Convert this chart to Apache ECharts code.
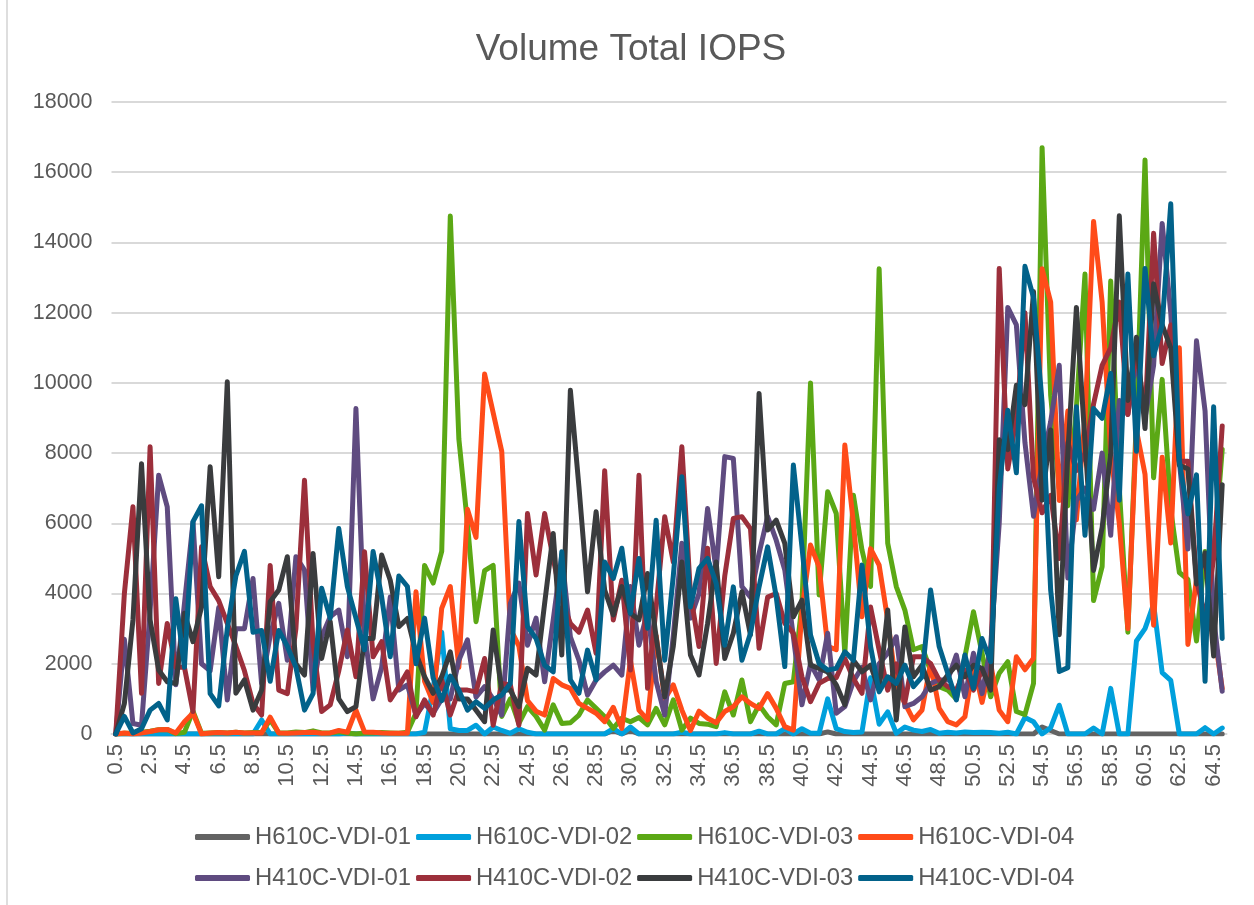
<!DOCTYPE html>
<html>
<head>
<meta charset="utf-8">
<title>Volume Total IOPS</title>
<script src="https://cdn.jsdelivr.net/npm/echarts@6/dist/echarts.min.js"></script>
<style>
html, body { margin: 0; padding: 0; background: #fff; }
#main { width: 1254px; height: 905px; }
#edge { position: absolute; left: 6px; top: 0; width: 2px; height: 905px; background: #DEDEDE; }
</style>
</head>
<body>
<div id="main"></div>
<div id="edge"></div>
<script>
var categories = [
	0.5,1,1.5,2,2.5,3,3.5,4,4.5,5,5.5,6,6.5,7,7.5,8,8.5,9,9.5,10,
	10.5,11,11.5,12,12.5,13,13.5,14,14.5,15,15.5,16,16.5,17,17.5,18,18.5,19,19.5,20,
	20.5,21,21.5,22,22.5,23,23.5,24,24.5,25,25.5,26,26.5,27,27.5,28,28.5,29,29.5,30,
	30.5,31,31.5,32,32.5,33,33.5,34,34.5,35,35.5,36,36.5,37,37.5,38,38.5,39,39.5,40,
	40.5,41,41.5,42,42.5,43,43.5,44,44.5,45,45.5,46,46.5,47,47.5,48,48.5,49,49.5,50,
	50.5,51,51.5,52,52.5,53,53.5,54,54.5,55,55.5,56,56.5,57,57.5,58,58.5,59,59.5,60,
	60.5,61,61.5,62,62.5,63,63.5,64,64.5,65
];

var h610c01 = [
	0,0,0,0,0,0,0,0,0,0,
	0,0,0,0,0,0,0,0,0,0,
	0,0,0,0,0,0,0,0,0,0,
	0,0,0,0,0,0,0,0,0,0,
	0,0,0,0,0,0,0,0,0,0,
	0,0,0,0,0,0,0,0,100,0,
	100,0,0,0,0,0,0,0,0,0,
	0,0,0,0,0,0,0,0,0,0,
	0,0,0,60,0,0,0,0,0,0,
	0,0,0,0,0,0,0,0,0,0,
	0,0,0,0,0,0,0,0,200,100,
	0,0,0,0,0,0,0,0,0,0,
	0,0,0,0,0,0,0,0,0,0
];
var h610c02 = [
	0,0,0,0,0,0,0,0,0,0,
	0,0,0,0,0,0,0,400,0,0,
	0,0,0,0,0,0,0,30,0,0,
	0,0,0,0,0,0,50,1300,2900,150,
	100,100,250,0,200,100,20,150,50,0,
	0,0,0,0,0,0,0,0,150,0,
	200,0,0,0,0,0,50,0,0,0,
	0,40,0,0,0,80,0,0,150,0,
	150,20,20,1000,150,70,40,60,1600,280,
	630,20,200,110,70,130,20,50,30,60,
	40,50,40,20,50,0,470,350,0,180,
	820,0,0,0,170,0,1300,0,0,2650,
	3000,3700,1750,1530,0,0,0,180,0,170
];
var h610c03 = [
	0,20,30,50,80,120,130,10,50,650,
	20,30,40,30,50,30,40,40,400,30,
	30,60,40,90,30,30,60,30,0,30,
	30,40,30,20,50,600,4800,4300,5200,14750,
	8400,6000,3200,4650,4800,500,1000,300,780,500,
	110,830,300,320,540,970,730,490,160,450,
	350,470,260,730,260,970,110,450,300,280,
	210,1200,540,1540,350,830,490,260,1440,1490,
	3700,10000,3960,6900,6280,2300,6800,5240,4200,13250,
	5430,4200,3530,2400,2490,1800,1350,1250,1000,2200,
	3480,2300,1060,1730,2060,640,550,1440,16700,9650,
	7000,6500,9300,13100,3800,4770,12900,7000,2900,9000,
	16350,7300,10100,6400,4600,4400,2650,5200,5000,8100
];
var h610c04 = [
	0,30,0,30,70,120,130,30,350,600,
	0,30,40,30,50,30,30,30,480,30,
	20,30,40,50,20,30,100,50,680,60,
	50,30,20,20,20,4050,1500,900,3580,4200,
	1900,6400,5600,10250,9150,8050,3000,2500,950,650,
	540,1580,1400,1300,870,730,590,350,760,160,
	2100,680,400,2800,1000,1400,680,100,650,450,
	320,640,780,1060,870,730,1150,730,210,110,
	3500,5380,4760,2500,2400,8230,6000,3340,5280,4810,
	3250,1350,870,400,680,2000,730,350,260,490,
	2000,900,2000,680,350,2200,1830,2160,13250,12300,
	6650,9200,6100,9000,14600,12300,8000,6000,3000,8650,
	7400,3100,7880,5440,11000,2550,4400,5000,3000,1300
];
var h410c01 = [
	0,2700,300,250,3500,7370,6470,1400,3700,6040,
	2000,1800,3600,970,3000,3000,4430,1440,2800,3720,
	2100,5050,4670,1250,2770,3340,3530,2200,9270,2900,
	1000,1900,3900,1250,1400,540,870,590,1000,1000,
	2100,2680,1050,1350,1000,540,3720,4300,2530,3300,
	1490,3250,5100,2770,2100,1110,1540,1770,1960,1680,
	4200,2530,3500,1500,540,2800,5430,3300,4000,6420,
	4670,7900,7850,4200,3900,5140,6190,5520,4670,2770,
	830,2000,1540,2870,590,780,1500,1900,970,2000,
	2300,2770,780,870,1060,1440,1540,1540,2250,1060,
	2300,1150,2490,6000,12150,11650,8300,6200,7700,8900,
	10500,4440,6650,7000,6400,8000,5660,9500,9100,10700,
	9000,10500,14540,12000,7770,5270,11200,9200,3300,1220
];
var h410c02 = [
	0,4000,6470,1160,8180,1440,3150,1900,1900,640,
	5330,4200,3800,3150,2500,1800,870,540,4800,1250,
	1150,3000,7230,2580,640,830,1800,2960,1630,5190,
	2200,2630,970,1350,1770,490,970,540,1540,540,
	1250,1250,1200,2150,250,1440,1400,250,6280,4530,
	6280,5000,3800,3150,2900,3530,2300,7500,3250,4380,
	1820,7370,1300,3600,6190,4900,8180,4000,2490,5290,
	2010,4500,6140,6190,5850,2440,3900,4000,3150,2870,
	1630,920,1440,1580,1600,2150,1580,1160,3620,2390,
	1250,2000,900,2200,2200,2000,1540,1350,1250,1820,
	1250,1820,1350,13260,7550,9000,12000,7300,6300,6800,
	5000,8300,7500,8000,9400,10500,11000,12300,9100,11000,
	9000,14260,10550,11650,7770,7770,4400,3300,5000,8770
];
var h410c03 = [
	0,870,3250,7700,3250,1820,1490,1440,3440,2630,
	3620,7610,4480,10030,1160,1540,680,1250,3770,4100,
	5050,2000,1680,5140,2150,3200,1000,640,780,2720,
	2720,5100,4380,3060,3290,2300,1630,1160,1630,2340,
	1000,1000,680,350,2960,1250,1250,780,1870,1680,
	3720,5710,2250,9790,7040,4050,6330,4100,3390,4200,
	3440,3250,4570,2770,1060,2500,4900,2250,1680,3150,
	4900,2150,2870,4050,2820,9700,5810,6090,5430,3340,
	3810,1960,1870,1770,1400,830,2100,1770,1960,1250,
	3530,400,3050,1630,1960,1250,1350,1680,1960,1630,
	1960,1870,1250,8380,8100,9930,9380,12600,6660,8660,
	2830,8000,12150,8320,4660,5880,8000,14760,9500,11300,
	8700,12820,11650,11000,7660,7550,4270,5160,2220,7100
];
var h410c04 = [
	0,500,30,150,680,870,400,3850,1900,6050,
	6500,1150,800,3000,4500,5200,2900,2950,1500,2950,
	2500,1900,680,1150,4150,3300,5850,4200,3300,2400,
	5200,3900,2200,4500,4200,2000,3300,1600,950,1650,
	1250,680,920,730,970,1110,1440,6050,3060,2720,
	1960,1770,5190,1540,1160,2390,1540,4900,4430,5290,
	3440,5000,3010,6090,2100,4500,7330,3620,4720,5000,
	4290,2530,4190,2100,2870,4190,5330,3910,1920,7660,
	5330,2820,2010,1820,1870,2340,2100,4810,2490,1200,
	1630,1440,1960,1350,1630,4100,2490,1730,970,2250,
	1300,2720,2060,7000,9220,7440,13320,12430,9430,4100,
	1780,1890,9320,5660,9270,8990,10270,6660,13100,8050,
	13260,10770,11650,15100,7770,6270,7380,1500,9320,2720
];

var names = ['H610C-VDI-01', 'H610C-VDI-02', 'H610C-VDI-03', 'H610C-VDI-04',
	'H410C-VDI-01', 'H410C-VDI-02', 'H410C-VDI-03', 'H410C-VDI-04'];
var colors = ['#636363', '#00A0DC', '#5BA815', '#FF4B19', '#5F4B80', '#9C2F3B', '#3A3C3E', '#02628A'];
var values = [h610c01, h610c02, h610c03, h610c04, h410c01, h410c02, h410c03, h410c04];

var series = [];
for (var i = 0; i < names.length; i++) {
	series.push({
		name : names[i],
		type : 'line',
		data : values[i],
		symbol : 'none',
		smooth : false,
		animation : false,
		lineStyle : { width : 5, color : colors[i], cap : 'round', join : 'round' },
		itemStyle : { color : colors[i] }
	});
}

function legendRow(row, top) {
	return {
		data : row,
		left : 190,
		top : top,
		itemWidth : 55,
		itemHeight : 6,
		itemGap : 5,
		icon : 'roundRect',
		textStyle : { color : '#595959', fontSize : 23.8, fontFamily : 'Liberation Sans' }
	};
}

var chart = echarts.init(document.getElementById('main'));
chart.setOption({
	animation : false,
	color : colors,
	title : {
		text : 'Volume Total IOPS',
		left : 626,
		top : 26,
		textAlign : 'center',
		textStyle : { color : '#595959', fontSize : 37, fontWeight : 'normal', fontFamily : 'Liberation Sans' }
	},
	legend : [ legendRow(names.slice(0, 4), 820), legendRow(names.slice(4), 861) ],
	grid : { left : 111.5, right : 27.5, top : 102, bottom : 171 },
	xAxis : {
		type : 'category',
		data : categories,
		boundaryGap : true,
		axisTick : { show : false },
		axisLine : { lineStyle : { color : '#D9D9D9', width : 2 } },
		axisLabel : {
			interval : 3,
			rotate : 90,
			margin : 10,
			color : '#595959',
			fontSize : 22,
			fontFamily : 'Liberation Sans'
		}
	},
	yAxis : {
		type : 'value',
		min : 0,
		max : 18000,
		interval : 2000,
		axisLine : { show : false },
		axisTick : { show : false },
		splitLine : { lineStyle : { color : '#D9D9D9', width : 2 } },
		axisLabel : {
			margin : 19,
			color : '#595959',
			fontSize : 21.5,
			fontFamily : 'Liberation Sans',
			formatter : function (v) { return String(v); }
		}
	},
	series : series
});
</script>
</body>
</html>
